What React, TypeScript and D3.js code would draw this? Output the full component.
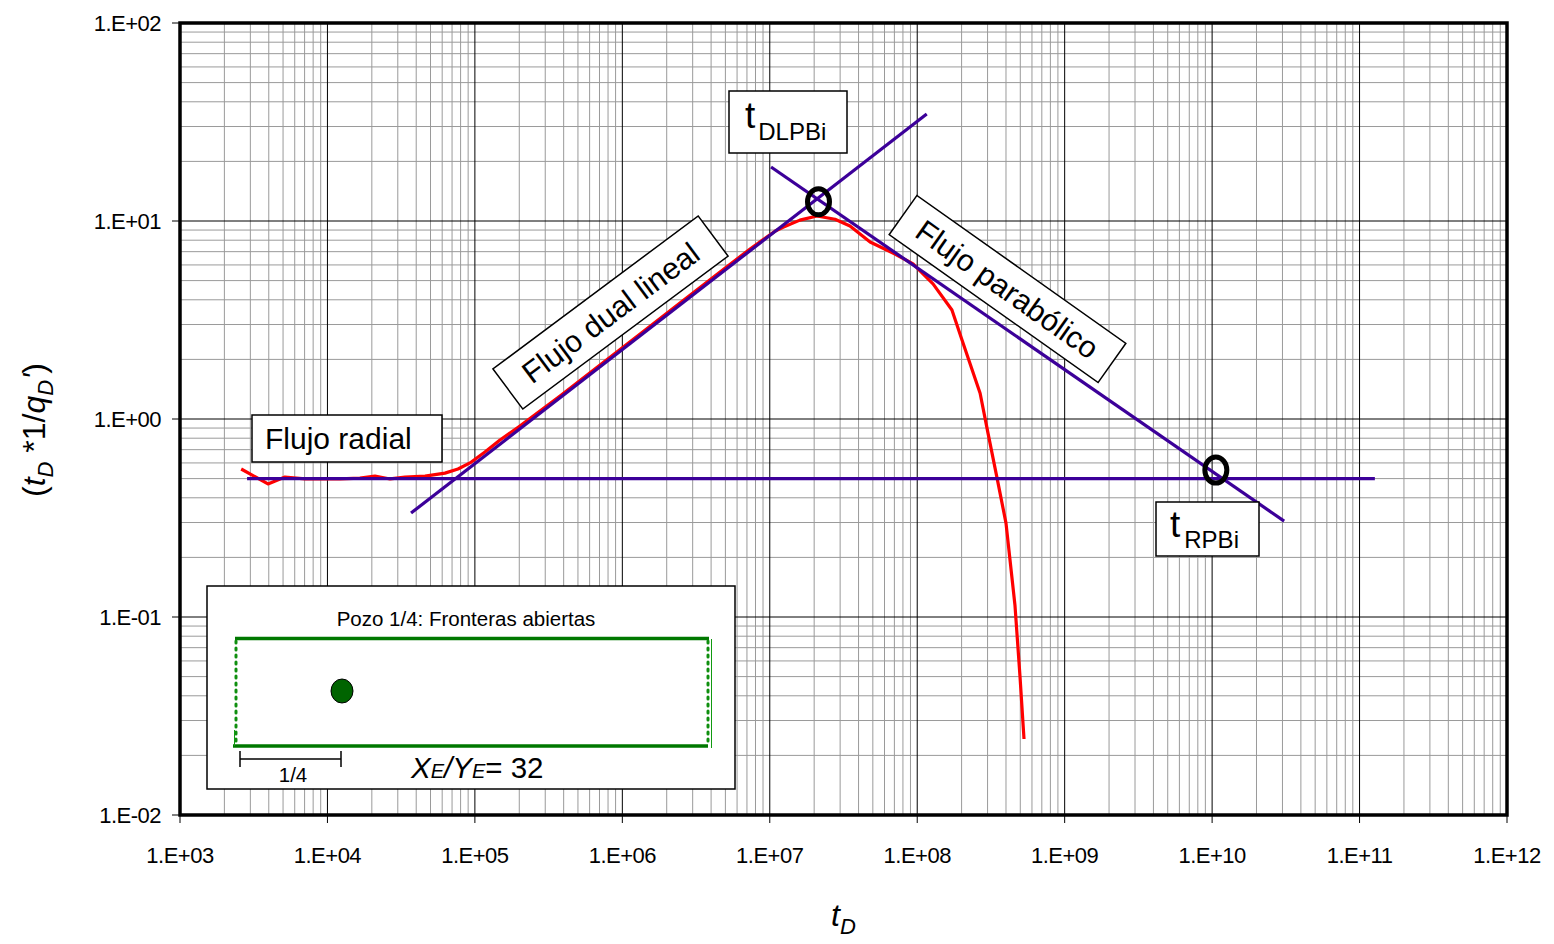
import React from "react";
import * as d3 from "d3";

// ---- data ----
const xTickLabels = ["1.E+03","1.E+04","1.E+05","1.E+06","1.E+07","1.E+08","1.E+09","1.E+10","1.E+11","1.E+12"];
const yTickLabels = ["1.E-02","1.E-01","1.E+00","1.E+01","1.E+02"];
const xTickValues = [1e3,1e4,1e5,1e6,1e7,1e8,1e9,1e10,1e11,1e12];
const yTickValues = [1e-2,1e-1,1,1e1,1e2];

const curveT = [2.6e3,3.95e3,5.15e3,7.05e3,1.22e4,1.66e4,2.1e4,2.66e4,3.36e4,4.59e4,6.27e4,7.68e4,9.26e4,1.17e5,1.48e5,2.02e5,3.78e5,7.06e5,1.32e6,2.46e6,4.6e6,7.35e6,1.09e7,1.23e7,1.6e7,2.09e7,2.77e7,3.5e7,4.79e7,7.07e7,9.37e7,1.28e8,1.72e8,2.01e8,2.67e8,3.02e8,3.48e8,4.0e8,4.6e8,4.98e8,5.3e8];
const curveV = [0.559,0.47,0.509,0.498,0.498,0.503,0.515,0.498,0.509,0.515,0.533,0.559,0.6,0.681,0.783,0.922,1.307,1.874,2.69,3.85,5.53,7.22,8.9,9.3,10.1,10.6,10.2,9.44,7.83,6.81,6.07,4.81,3.55,2.51,1.35,0.849,0.503,0.298,0.115,0.0498,0.0242];

const radialT = [2.85e3, 1.27e11];
const radialV = [0.5, 0.5];
const dualT = [3.69e4, 1.16e8];
const dualV = [0.335, 34.7];
const paraT = [1.02e7, 3.08e10];
const paraV = [18.75, 0.305];
const markT = [2.14e7, 1.06e10];
const markV = [12.5, 0.552];

const W = 1554, H = 944;
const L = 180, R = 1507, T = 23, B = 815;
const FONT = "Arial, 'Liberation Sans', Helvetica, sans-serif";
const LINE_C = "#3c0099";

export default function App() {
  const x = d3.scaleLog().domain([1e3, 1e12]).range([L, R]);
  const y = d3.scaleLog().domain([1e-2, 1e2]).range([B, T]);

  const minorX: number[] = [];
  for (let d = 3; d < 12; d++) for (let k = 2; k <= 9; k++) minorX.push(k * Math.pow(10, d));
  const minorY: number[] = [];
  for (let d = -2; d < 2; d++) for (let k = 2; k <= 9; k++) minorY.push(k * Math.pow(10, d));

  const line = d3.line<[number, number]>().x(d => x(d[0])).y(d => y(d[1]));
  const zip = (a: number[], b: number[]) => a.map((v, i) => [v, b[i]] as [number, number]);

  return (
    <svg width={W} height={H} style={{ position: "fixed", left: 0, top: 0, background: "#fff" }} fontFamily={FONT}>
      <rect x={0} y={0} width={W} height={H} fill="#fff" />
      {/* minor grid */}
      {minorX.map((v, i) => (
        <line key={"mx" + i} x1={x(v)} x2={x(v)} y1={T} y2={B} stroke="#9a9a9a" strokeWidth={1} />
      ))}
      {minorY.map((v, i) => (
        <line key={"my" + i} x1={L} x2={R} y1={y(v)} y2={y(v)} stroke="#9a9a9a" strokeWidth={1} />
      ))}
      {/* major grid */}
      {xTickValues.map((v, i) => (
        <line key={"Mx" + i} x1={x(v)} x2={x(v)} y1={T} y2={B} stroke="#000" strokeWidth={1} />
      ))}
      {yTickValues.map((v, i) => (
        <line key={"My" + i} x1={L} x2={R} y1={y(v)} y2={y(v)} stroke="#000" strokeWidth={1} />
      ))}
      {/* ticks */}
      {xTickValues.map((v, i) => (
        <line key={"tx" + i} x1={x(v)} x2={x(v)} y1={B} y2={B + 8} stroke="#000" strokeWidth={1} />
      ))}
      {yTickValues.map((v, i) => (
        <line key={"ty" + i} x1={L - 8} x2={L} y1={y(v)} y2={y(v)} stroke="#000" strokeWidth={1} />
      ))}
      {/* tick labels */}
      {xTickLabels.map((s, i) => (
        <text key={"lx" + i} x={x(xTickValues[i])} y={B + 48} fontSize={22} letterSpacing={-0.5} textAnchor="middle" fill="#000">{s}</text>
      ))}
      {yTickLabels.map((s, i) => (
        <text key={"ly" + i} x={L - 19} y={y(yTickValues[i]) + 8} fontSize={22} letterSpacing={-0.5} textAnchor="end" fill="#000">{s}</text>
      ))}

      {/* series */}
      <path d={line(zip(curveT, curveV)) || ""} fill="none" stroke="#ff0000" strokeWidth={3.2} strokeLinejoin="round" />
      <path d={line(zip(radialT, radialV)) || ""} fill="none" stroke={LINE_C} strokeWidth={3.2} />
      <path d={line(zip(dualT, dualV)) || ""} fill="none" stroke={LINE_C} strokeWidth={3.2} />
      <path d={line(zip(paraT, paraV)) || ""} fill="none" stroke={LINE_C} strokeWidth={3.2} />
      {markT.map((t, i) => (
        <ellipse key={"m" + i} cx={x(t)} cy={y(markV[i])} rx={11} ry={13} fill="none" stroke="#000" strokeWidth={5} />
      ))}

      {/* plot border */}
      <rect x={L} y={T} width={R - L} height={B - T} fill="none" stroke="#000" strokeWidth={3.5} />

      {/* annotation boxes */}
      <g>
        <rect x={252} y={415} width={190} height={47} fill="#fff" stroke="#000" strokeWidth={1.5} />
        <text x={265} y={449} fontSize={30} fill="#000">Flujo radial</text>
      </g>
      <g transform="translate(610.5,312.5) rotate(-36.7)">
        <rect x={-128} y={-25} width={256} height={50} fill="#fff" stroke="#000" strokeWidth={1.5} />
        <text x={0} y={11} fontSize={30.5} textAnchor="middle" fill="#000">Flujo dual lineal</text>
      </g>
      <g transform="translate(1007.5,289) rotate(35.3)">
        <rect x={-128} y={-24} width={256} height={48} fill="#fff" stroke="#000" strokeWidth={1.5} />
        <text x={0} y={11} fontSize={30.5} textAnchor="middle" fill="#000">Flujo parabólico</text>
      </g>
      <g>
        <rect x={729} y={91} width={118} height={62} fill="#fff" stroke="#000" strokeWidth={1.5} />
        <text x={745} y={128} fontSize={37} fill="#000">t<tspan fontSize={24} dy={12} dx={3}>DLPBi</tspan></text>
      </g>
      <g>
        <rect x={1156} y={502} width={103} height={54} fill="#fff" stroke="#000" strokeWidth={1.5} />
        <text x={1170} y={537} fontSize={37} fill="#000">t<tspan fontSize={24} dy={11} dx={4}>RPBi</tspan></text>
      </g>

      {/* inset */}
      <g>
        <rect x={207} y={586} width={528} height={203} fill="#fff" stroke="#000" strokeWidth={1.5} />
        <text x={466} y={626} fontSize={20.5} textAnchor="middle" fill="#000">Pozo 1/4: Fronteras abiertas</text>
        <line x1={235} x2={709} y1={638.5} y2={638.5} stroke="#007800" strokeWidth={3.5} />
        <line x1={233} x2={708} y1={746} y2={746} stroke="#007800" strokeWidth={3.5} />
        <line x1={236} x2={236} y1={641} y2={744} stroke="#0f8f0f" strokeWidth={3} strokeDasharray="2 5" strokeLinecap="round" />
        <line x1={234.5} x2={234.5} y1={730} y2={746} stroke="#119911" strokeWidth={1} />
        <line x1={708} x2={708} y1={641} y2={744} stroke="#0f8f0f" strokeWidth={3} strokeDasharray="2 5" strokeLinecap="round" />
        <line x1={711.5} x2={711.5} y1={639} y2={748} stroke="#119911" strokeWidth={1} />
        <ellipse cx={342} cy={691} rx={11} ry={12} fill="#006400" stroke="#000" strokeWidth={1} />
        <line x1={240} x2={341} y1={759} y2={759} stroke="#000" strokeWidth={1.5} />
        <line x1={240} x2={240} y1={751} y2={767} stroke="#000" strokeWidth={1.5} />
        <line x1={341} x2={341} y1={751} y2={767} stroke="#000" strokeWidth={1.5} />
        <text x={293} y={782} fontSize={20.5} textAnchor="middle" fill="#000">1/4</text>
        <text x={411} y={778} fontSize={29.5} fill="#000">
          <tspan fontStyle="italic">X</tspan><tspan fontStyle="italic" fontSize={20}>E</tspan><tspan fontStyle="italic">/Y</tspan><tspan fontStyle="italic" fontSize={20}>E</tspan><tspan>= 32</tspan>
        </text>
      </g>

      {/* axis titles */}
      <text x={831} y={926} fontSize={32} fill="#000" fontStyle="italic">t<tspan fontSize={22} dy={8}>D</tspan></text>
      <text transform="translate(45,430) rotate(-90)" fontSize={32} textAnchor="middle" fill="#000">
        (<tspan fontStyle="italic">t</tspan><tspan fontStyle="italic" fontSize={22} dy={8}>D</tspan><tspan dy={-8}> *1/</tspan><tspan fontStyle="italic">q</tspan><tspan fontStyle="italic" fontSize={22} dy={8}>D</tspan><tspan fontStyle="italic" dy={-8}>'</tspan>)
      </text>
    </svg>
  );
}
